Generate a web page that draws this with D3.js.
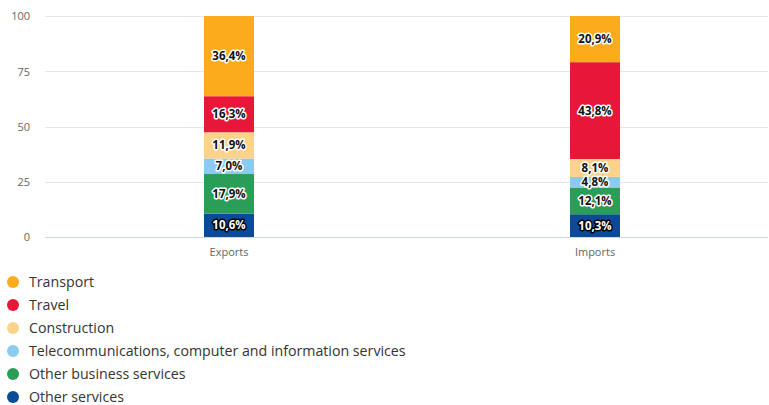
<!DOCTYPE html>
<html>
<head>
<meta charset="utf-8">
<script src="https://cdn.jsdelivr.net/npm/d3@7"></script>
<style>
  html, body { margin: 0; padding: 0; background: #fff; }
  svg { display: block; font-family: "Open Sans", sans-serif; }
</style>
</head>
<body>
<svg id="chart" width="769" height="405"></svg>
<script>
// Services trade structure, % of total
const categories = ["Exports", "Imports"];
const seriesNames = [
  "Other services",
  "Other business services",
  "Telecommunications, computer and information services",
  "Construction",
  "Travel",
  "Transport"
];
const exportsValues = [10.6, 17.9, 7.0, 11.9, 16.3, 36.4];
const importsValues = [10.3, 12.1, 4.8, 8.1, 43.8, 20.9];
const seriesColors = ["#0b4a97", "#2a9d58", "#8ccbf1", "#fdd38c", "#e8173a", "#fbab1b"];
const darkLabel = [true, false, false, false, false, false];
const yTicks = [0, 25, 50, 75, 100];

const svg = d3.select("#chart");
const margin = { top: 16, left: 45, right: 768, bottom: 237 };

const rows = categories.map((c, i) => {
  const vals = i === 0 ? exportsValues : importsValues;
  const r = { category: c };
  seriesNames.forEach((s, j) => r[s] = vals[j]);
  return r;
});

const stacked = d3.stack().keys(seriesNames)(rows);

const x = d3.scaleBand().domain(categories).range([46, 778]);
const y = d3.scaleLinear().domain([0, 100]).range([margin.bottom, margin.top]);
const barW = 50;

// grid lines
svg.append("g").selectAll("line").data(yTicks).join("line")
  .attr("x1", margin.left).attr("x2", margin.right)
  .attr("y1", d => Math.round(y(d)) + 0.5).attr("y2", d => Math.round(y(d)) + 0.5)
  .attr("stroke", d => d === 0 ? "#ccd6eb" : "#e6e6e6").attr("stroke-width", 1);

// y axis labels
const yAxis = svg.append("g").attr("transform", `translate(${margin.left - 15},0)`)
  .call(d3.axisLeft(y).tickValues(yTicks).tickSize(0).tickPadding(0));
yAxis.select(".domain").remove();
yAxis.selectAll("text").attr("font-family", "Open Sans, sans-serif")
  .attr("font-size", 11).attr("fill", "#666").attr("dy", "0.35em");

// x axis labels
const xAxis = svg.append("g").attr("transform", `translate(0,${margin.bottom})`)
  .call(d3.axisBottom(x).tickSize(0).tickPadding(11));
xAxis.select(".domain").remove();
xAxis.selectAll("text").attr("font-family", "Open Sans, sans-serif")
  .attr("font-size", 11).attr("fill", "#666");

// bars
const layers = svg.append("g").selectAll("g").data(stacked).join("g")
  .attr("fill", (d, i) => seriesColors[i]);

layers.selectAll("rect").data(d => d.map(p => ({ p, key: d.key, idx: d.index }))).join("rect")
  .attr("x", d => x(d.p.data.category) + x.bandwidth() / 2 - barW / 2)
  .attr("width", barW)
  .attr("y", d => y(Math.min(d.p[1], 100)))
  .attr("height", d => y(d.p[0]) - y(Math.min(d.p[1], 100)));

// value labels
const labels = svg.append("g").selectAll("g").data(stacked).join("g");
labels.selectAll("text").data(d => d.map(p => ({ p, idx: d.index, v: p[1] - p[0] }))).join("text")
  .attr("x", d => x(d.p.data.category) + x.bandwidth() / 2)
  .attr("y", d => (y(d.p[0]) + y(Math.min(d.p[1], 100))) / 2)
  .attr("dy", "0.35em")
  .attr("text-anchor", "middle")
  .attr("font-family", "Open Sans, sans-serif")
  .attr("font-size", 11.5)
  .attr("font-weight", "bold")
  .attr("paint-order", "stroke")
  .attr("stroke-linejoin", "round")
  .attr("stroke-width", 3)
  .attr("stroke", d => darkLabel[d.idx] ? "#000" : "#fff")
  .attr("fill", d => darkLabel[d.idx] ? "#fff" : "#111")
  .text(d => d3.format(".1f")(d.v).replace(".", ",") + "%");

// legend (top to bottom: Transport first)
const legendOrder = seriesNames.map((s, i) => i).reverse();
const legend = svg.append("g").selectAll("g").data(legendOrder).join("g")
  .attr("transform", (d, i) => `translate(13,${282 + i * 23})`);
legend.append("circle").attr("r", 6).attr("fill", d => seriesColors[d]);
legend.append("text").attr("x", 16).attr("dy", "0.35em")
  .attr("font-family", "Open Sans, sans-serif").attr("font-size", 14.2)
  .attr("fill", "#333").text(d => seriesNames[d]);
</script>
</body>
</html>
